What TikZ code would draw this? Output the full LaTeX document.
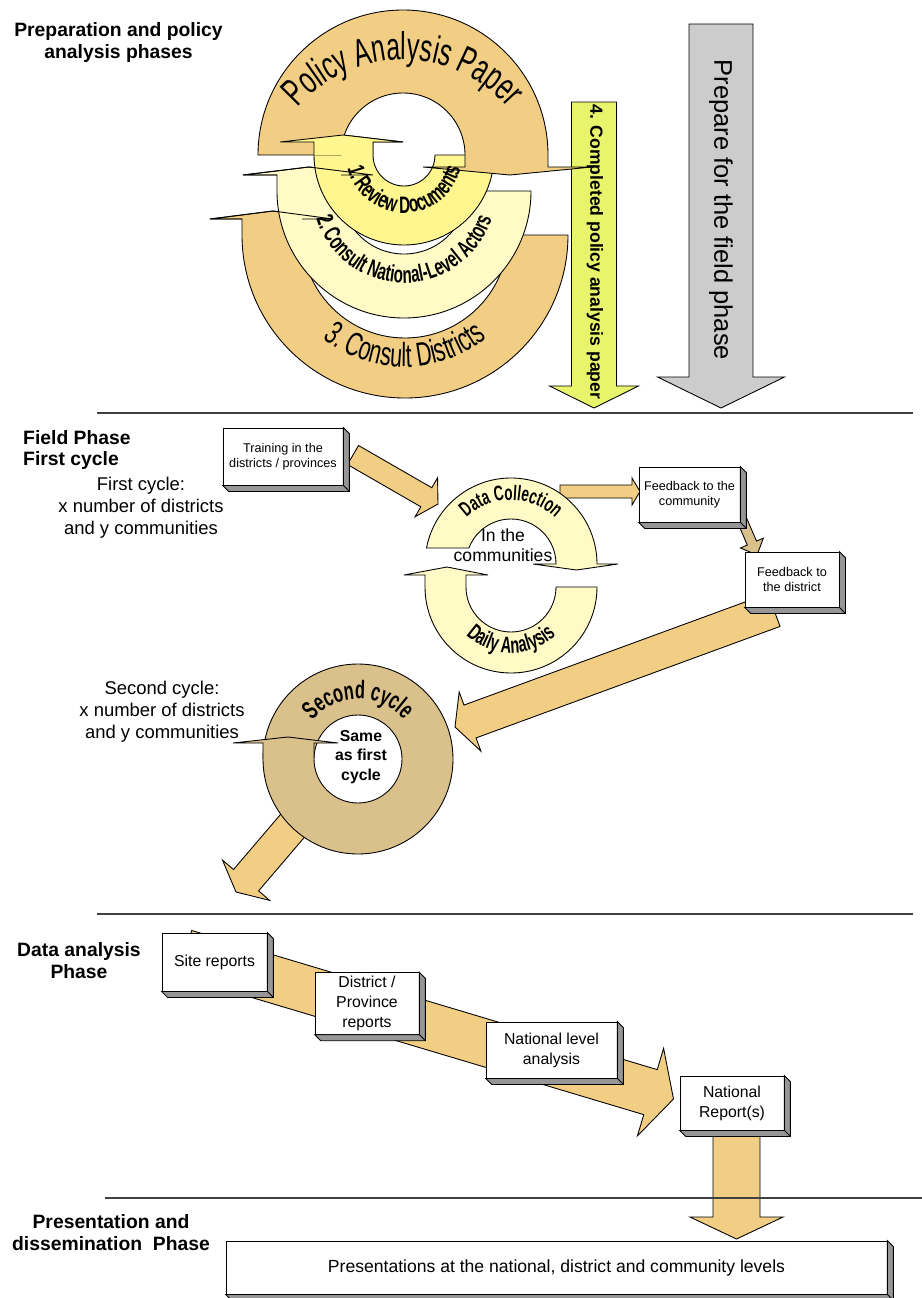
\documentclass[tikz,border=0pt]{standalone}
\usepackage{fontspec}
\setmainfont{Liberation Sans}
\newfontfamily\arcfont[FakeStretch=0.64]{Liberation Sans}
\usepackage{tikz}
\usetikzlibrary{calc, decorations.text}

\definecolor{sand}{RGB}{242,206,132}
\definecolor{lemon}{RGB}{255,246,143}
\definecolor{cream}{RGB}{255,250,198}
\definecolor{lime}{RGB}{232,244,108}
\definecolor{khaki}{RGB}{218,193,140}
\definecolor{ash}{RGB}{204,204,204}
\definecolor{slate}{RGB}{150,150,150}
\definecolor{rulegray}{RGB}{64,64,64}

% fat arrow: colour, start, tip, shaft half width, head half width, head length
\newcommand\fatarrow[6]{%
  \coordinate (fa-h) at ($(#3)!#6!(#2)$);
  \filldraw[ring, fill=#1]
    ($(#2)!#4!90:(#3)$) -- ($(fa-h)!#4!-90:(#2)$) -- ($(fa-h)!#5!-90:(#2)$) -- (#3)
    -- ($(fa-h)!#5!90:(#2)$) -- ($(fa-h)!#4!90:(#2)$) -- ($(#2)!#4!-90:(#3)$) -- cycle;
}
% grey depth faces of a box
\newcommand\slabside[1]{%
  \filldraw[ring, fill=slate] (#1.north east) -- ++(6,-6) -- ($(#1.south east)+(6,-6)$)
    -- ($(#1.south west)+(6,-6)$) -- (#1.south west) -- (#1.south east) -- cycle;
  \draw[ring] (#1.south east) -- ++(6,-6);
}

\begin{document}
\begin{tikzpicture}[
    x=0.02cm, y=0.02cm,
    ring/.style={draw=black, line width=0.5pt},
    slab/.style={draw, fill=white, line width=0.5pt, align=center, inner sep=2pt},
    head/.style={font=\bfseries\fontsize{11}{12.5}\selectfont, align=center},
    note/.style={font=\fontsize{10.5}{12.5}\selectfont, align=center},
    rule/.style={draw=rulegray, line width=0.6pt}
]
\useasboundingbox (0,0) rectangle (922,-1298);

% Preparation and policy analysis phases
\node[head] (prep) at (118.5,-42.5) {Preparation and policy\\analysis phases};

\coordinate (g1) at (721,-24);
\coordinate (g2) at (721,-408);
\fatarrow{ash}{g1}{g2}{0.64cm}{1.27cm}{0.62cm}
\coordinate (p1) at (594,-102);
\coordinate (p2) at (594,-408);
\fatarrow{lime}{p1}{p2}{0.45cm}{0.89cm}{0.44cm}

% 3. consult districts
\begin{scope}[shift={(405,-235)}]
\filldraw[ring, fill=sand] (0:163) arc[start angle=0, end angle=-180, radius=163]
  -- (-163,16) -- (-195,16) -- (-132,24) -- (-72,16) -- (-103,16) -- (-103,0)
  arc[start angle=180, end angle=360, radius=103] -- cycle;
\end{scope}
% 2. consult actors
\begin{scope}[shift={(404,-191)}]
\filldraw[ring, fill=cream] (0:127) arc[start angle=0, end angle=-180, radius=127]
  -- (-127,16) -- (-161,16) -- (-95,24) -- (-31,16) -- (-63,16) -- (-63,0)
  arc[start angle=180, end angle=360, radius=63] -- cycle;
\end{scope}
% 1. review documents
\begin{scope}[shift={(404,-155)}]
\filldraw[ring, fill=lemon] (0:90) arc[start angle=0, end angle=-180, radius=90]
  -- (-90,13) -- (-124,13) -- (-61,20) -- (-1,13) -- (-31,13) -- (-31,0)
  arc[start angle=180, end angle=360, radius=31] -- cycle;
\end{scope}
% policy analysis paper
\begin{scope}[shift={(403,-155)}]
\filldraw[ring, fill=sand] (180:145) arc[start angle=180, end angle=0, radius=145]
  -- (145,-12) -- (189,-12) -- (107,-20) -- (20,-12) -- (62,-12) -- (62,0)
  arc[start angle=0, end angle=180, radius=62] -- cycle;
\end{scope}
\begin{scope}[shift={(404,-155)}]
\filldraw[ring, fill=lemon] (-90,0) -- (-90,13) -- (-124,13) -- (-61,20) -- (-1,13) -- (-31,13) -- (-31,0);
\end{scope}
\draw[ring, shift={(404,-191)}] (-127,16) -- (-161,16) -- (-95,24) -- (-31,16) -- (-63,16);
\draw[ring, shift={(405,-235)}] (-163,16) -- (-195,16) -- (-132,24) -- (-72,16) -- (-103,16);

\path[decorate, decoration={text along path, text align=center,
  text={|\arcfont\fontsize{22}{23}\selectfont|Policy Analysis Paper}}]
  ($(403,-200)+(138:140)$) arc[start angle=138, end angle=42, radius=140];
\path[decorate, decoration={text along path, text align=center,
  text={|\arcfont\bfseries\fontsize{13.5}{14}\selectfont|1. Review Documents}}]
  ($(404,-155)+(192:58)$) arc[start angle=192, end angle=348, radius=58];
\path[decorate, decoration={text along path, text align=center,
  text={|\arcfont\bfseries\fontsize{13.5}{14}\selectfont|2. Consult National-Level Actors}}]
  ($(404,-191)+(194:92)$) arc[start angle=194, end angle=346, radius=92];
\path[decorate, decoration={text along path, text align=center,
  text={|\arcfont\fontsize{19}{20}\selectfont|3. Consult Districts}}]
  ($(405,-235)+(228:132)$) arc[start angle=228, end angle=312, radius=132];

\node[rotate=-90, font=\fontsize{14.5}{16}\selectfont] (field) at (721,-210) {Prepare for the field phase};
\node[rotate=-90, font=\bfseries\fontsize{10}{12}\selectfont] (done) at (595,-252) {4. Completed policy analysis paper};

\draw[rule] (97,-413) -- (913,-413);

% Field phase
\node[head, anchor=west, align=left] (fieldhead) at (17,-450) {Field Phase\\First cycle};
\node[note] (first) at (141,-508) {First cycle:\\x number of districts\\and y communities};
\node[note] (second) at (162,-712) {Second cycle:\\x number of districts\\and y communities};

\coordinate (t1) at (353,-455);
\coordinate (t2) at (438,-504);
\fatarrow{sand}{t1}{t2}{0.22cm}{0.45cm}{0.27cm}
\coordinate (c1) at (560,-491.5);
\coordinate (c2) at (640,-491.5);
\fatarrow{sand}{c1}{c2}{0.13cm}{0.27cm}{0.16cm}
\coordinate (f1) at (742,-520);
\coordinate (f2) at (757,-555);
\fatarrow{khaki}{f1}{f2}{0.1cm}{0.25cm}{0.26cm}
\coordinate (d1) at (774,-610);
\coordinate (d2) at (455,-727);
\fatarrow{sand}{d1}{d2}{0.35cm}{0.63cm}{0.32cm}
\coordinate (s1) at (300,-817);
\coordinate (s2) at (236,-892);
\fatarrow{sand}{s1}{s2}{0.33cm}{0.62cm}{0.31cm}

% data collection cycle
\begin{scope}[shift={(511,-564)}]
\filldraw[ring, fill=cream] (169.28:86) arc[start angle=169.28, end angle=0, radius=86]
  -- (107,0) -- (65.5,-6) -- (22,0) -- (45,0)
  arc[start angle=0, end angle=159.17, radius=45] -- cycle;
\end{scope}
\begin{scope}[shift={(511,-587)}]
\filldraw[ring, fill=cream] (0:86) arc[start angle=0, end angle=-180, radius=86]
  -- (-86,12) -- (-107,12) -- (-64,20) -- (-23,12) -- (-45,12) -- (-45,0)
  arc[start angle=180, end angle=360, radius=45] -- cycle;
\end{scope}
\path[decorate, decoration={text along path, text align=center,
  text={|\arcfont\bfseries\fontsize{12}{13}\selectfont|Data Collection}}]
  ($(511,-564)+(136:64)$) arc[start angle=136, end angle=44, radius=64];
\path[decorate, decoration={text along path, text align=center,
  text={|\arcfont\bfseries\fontsize{13}{14}\selectfont|Daily Analysis}}]
  ($(511,-587)+(225:66)$) arc[start angle=225, end angle=315, radius=66];
\node[font=\fontsize{10}{11.3}\selectfont, align=center] (comm) at (503,-545) {In the\\communities};

% second cycle
\begin{scope}[shift={(358,-759)}]
\filldraw[ring, fill=khaki, even odd rule] (0,0) circle[radius=95] (0,0) circle[radius=44];
\filldraw[ring, fill=khaki] (-95,0) -- (-95,16) -- (-125,16) -- (-70,22) -- (-20,16) -- (-44,16) -- (-44,0);
\end{scope}
\path[decorate, decoration={text along path, text align=center,
  text={|\arcfont\bfseries\fontsize{14.5}{15}\selectfont|Second cycle}}]
  ($(358,-759)+(140:60)$) arc[start angle=140, end angle=40, radius=60];
\node[font=\bfseries\fontsize{9}{11}\selectfont, align=center] (same) at (361,-757) {Same\\as first\\cycle};

\node[slab, minimum width=2.4cm, minimum height=1.14cm, font=\fontsize{7.2}{8.5}\selectfont] (train) at (283,-456.5) {Training in the\\districts / provinces};
\slabside{train}
\node[slab, minimum width=2.02cm, minimum height=1.1cm, font=\fontsize{7.2}{8.5}\selectfont] (fbcomm) at (689.5,-494.5) {Feedback to the\\community};
\slabside{fbcomm}
\node[slab, minimum width=1.88cm, minimum height=1.1cm, font=\fontsize{7.2}{8.5}\selectfont] (fbdist) at (792,-579.5) {Feedback to\\the district};
\slabside{fbdist}

\draw[rule] (97,-914) -- (913,-914);

% Data analysis phase
\node[head] (dataan) at (79,-961) {Data analysis\\Phase};
\coordinate (a1) at (185,-953);
\coordinate (a2) at (673.5,-1099);
\fatarrow{sand}{a1}{a2}{0.47cm}{0.914cm}{0.48cm}
\coordinate (n1) at (736.5,-1125);
\coordinate (n2) at (736.5,-1239);
\fatarrow{sand}{n1}{n2}{0.47cm}{0.93cm}{0.44cm}

\node[slab, minimum width=2.1cm, minimum height=1.16cm, font=\fontsize{9}{11.3}\selectfont] (site) at (214.5,-962) {Site reports};
\slabside{site}
\node[slab, minimum width=2.08cm, minimum height=1.22cm, font=\fontsize{9}{11.3}\selectfont] (distr) at (367,-1003.5) {District /\\Province\\reports};
\slabside{distr}
\node[slab, minimum width=2.62cm, minimum height=1.12cm, font=\fontsize{9}{11.3}\selectfont] (natlev) at (551.5,-1050) {National level\\analysis};
\slabside{natlev}
\node[slab, minimum width=2.08cm, minimum height=1.08cm, font=\fontsize{9}{11.3}\selectfont] (natrep) at (732,-1103) {National\\Report(s)};
\slabside{natrep}

\draw[rule] (105,-1198) -- (922,-1198);

% Presentation and dissemination phase
\node[head] (dissem) at (111,-1233) {Presentation and\\dissemination \ Phase};
\node[slab, minimum width=13.22cm, minimum height=1.06cm, font=\fontsize{10}{12}\selectfont] (pres) at (556.5,-1267.5) {Presentations at the national, district and community levels};
\slabside{pres}

\end{tikzpicture}
\end{document}
